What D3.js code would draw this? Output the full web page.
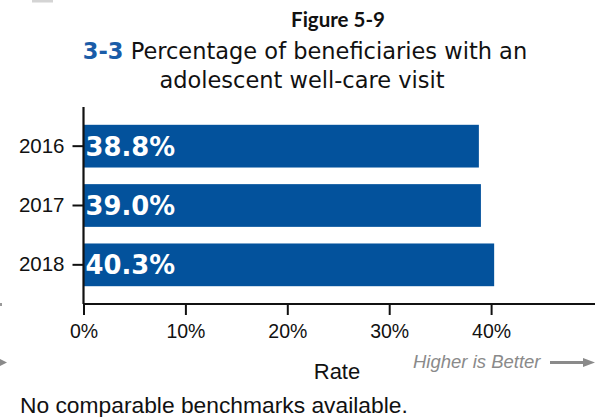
<!DOCTYPE html>
<html><head><meta charset="utf-8">
<script src="https://cdn.jsdelivr.net/npm/d3@7"></script>
<style>
html,body{margin:0;padding:0;background:#fff;}
svg{display:block;}
</style></head>
<body>
<svg id="chart" width="595" height="417"></svg>
<script>
const years = ["2016", "2017", "2018"];
const rates = [0.388, 0.390, 0.403];
const rateLabels = ["38.8%", "39.0%", "40.3%"];
const xTicks = [0, 0.1, 0.2, 0.3, 0.4];
const figureLabel = "Figure 5-9";
const titleNum = "3-3";
const titleLine1 = " Percentage of beneficiaries with an";
const titleLine2 = "adolescent well-care visit";
const xTitle = "Rate";
const hint = "Higher is Better";
const note = "No comparable benchmarks available.";

const svg = d3.select("#chart");
const blue = "#03529c";

// faint artifacts at edges
svg.append("rect").attr("x", 32).attr("y", 0).attr("width", 21).attr("height", 2.5).attr("fill", "#d4d4d4");
svg.append("path").attr("d", "M0,359 L7,362.5 L0,366 Z").attr("fill", "#8a8a8a");
svg.append("rect").attr("x", 0).attr("y", 303).attr("width", 2).attr("height", 3).attr("fill", "#9a9a9a");

const x = d3.scaleLinear().domain([0, 0.5]).range([83.5, 593]);
const y = d3.scaleBand().domain(years).range([107, 304]).paddingInner(0.28).paddingOuter(0.3);

// bars
svg.append("g").selectAll("rect").data(years).join("rect")
  .attr("x", x(0)).attr("y", d => y(d))
  .attr("width", (d, i) => x(rates[i]) - x(0))
  .attr("height", y.bandwidth())
  .attr("fill", blue);

// bar labels
svg.append("g").selectAll("text").data(years).join("text")
  .attr("x", x(0) + 2).attr("y", d => y(d) + y.bandwidth() / 2 + 9.5)
  .attr("fill", "#fff").attr("font-family", "DejaVu Sans").attr("font-weight", "bold")
  .attr("font-size", 25.8).text((d, i) => rateLabels[i]);

// axes
const xAxis = d3.axisBottom(x).tickValues(xTicks).tickFormat(d3.format(".0%")).tickSize(11).tickSizeOuter(0).tickPadding(9);
const gx = svg.append("g").attr("transform", "translate(0,304)").call(xAxis);
gx.select(".domain").attr("stroke", "#111").attr("stroke-width", 2.2).attr("d", "M83.5,0H595");
gx.selectAll(".tick line").attr("stroke", "#111").attr("stroke-width", 2);
gx.selectAll(".tick text").attr("font-family", "Liberation Sans, Arial, sans-serif").attr("font-size", 19.5).attr("fill", "#111");

const yAxis = d3.axisLeft(y).tickSize(11).tickSizeOuter(0).tickPadding(8);
const gy = svg.append("g").attr("transform", "translate(83.5,0)").call(yAxis);
gy.select(".domain").attr("stroke", "#111").attr("stroke-width", 2.2).attr("d", "M0,107V304");
gy.selectAll(".tick line").attr("stroke", "#111").attr("stroke-width", 2);
gy.selectAll(".tick text").attr("font-family", "Liberation Sans, Arial, sans-serif").attr("font-size", 20.5).attr("fill", "#111");

// titles
svg.append("text").attr("x", 338).attr("y", 27).attr("text-anchor", "middle")
  .attr("font-family", "Lato, Carlito, sans-serif").attr("font-weight", "bold").attr("font-size", 20.5)
  .attr("fill", "#111").text(figureLabel);

const t1 = svg.append("text").attr("x", 305).attr("y", 59).attr("text-anchor", "middle")
  .attr("font-family", "DejaVu Sans, sans-serif").attr("font-size", 22.5).attr("fill", "#111");
t1.append("tspan").attr("font-weight", "bold").attr("fill", "#1a5ca8").text(titleNum);
t1.append("tspan").text(titleLine1);
svg.append("text").attr("x", 302).attr("y", 88).attr("text-anchor", "middle")
  .attr("font-family", "DejaVu Sans, sans-serif").attr("font-size", 22.5).attr("fill", "#111")
  .text(titleLine2);

// axis title
svg.append("text").attr("x", 337).attr("y", 379).attr("text-anchor", "middle")
  .attr("font-family", "Liberation Sans, Arial, sans-serif").attr("font-size", 22).attr("fill", "#111").text(xTitle);

// higher is better
svg.append("text").attr("x", 413).attr("y", 368)
  .attr("font-family", "Liberation Sans, Arial, sans-serif").attr("font-style", "italic").attr("font-size", 18.5)
  .attr("fill", "#8a8a8a").text(hint);
svg.append("line").attr("x1", 550).attr("x2", 586).attr("y1", 362.5).attr("y2", 362.5)
  .attr("stroke", "#8a8a8a").attr("stroke-width", 3);
svg.append("path").attr("d", "M583,358 L595,362.5 L583,367 Z").attr("fill", "#8a8a8a");

// note
svg.append("text").attr("x", 20).attr("y", 413)
  .attr("font-family", "Liberation Sans, Arial, sans-serif").attr("font-size", 22.8).attr("fill", "#111").text(note);
</script>
</body></html>
